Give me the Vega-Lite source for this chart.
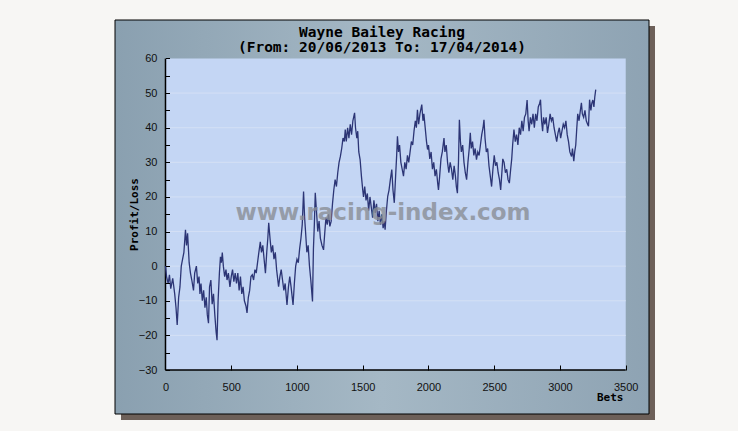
{
  "$schema": "https://vega.github.io/schema/vega-lite/v6.json",
  "description": "Wayne Bailey Racing cumulative profit/loss by number of bets.",
  "autosize": {"type": "none"},
  "width": 534,
  "height": 394,
  "padding": {"left": 115, "top": 20, "right": 89, "bottom": 17},
  "background": "#f7f6f4",
  "title": {
    "text": ["Wayne Bailey Racing", "(From: 20/06/2013 To: 17/04/2014)"],
    "font": "DejaVu Sans Mono",
    "fontSize": 14.5,
    "fontWeight": "bold",
    "color": "#000000",
    "anchor": "middle",
    "frame": "group",
    "baseline": "top",
    "offset": -36,
    "lineHeight": 15
  },
  "datasets": {
    "grid": [{"level": 50}, {"level": 40}, {"level": 30}, {"level": 20}, {"level": 10}, {"level": 0}, {"level": -10}, {"level": -20}],
    "pl": [
      {"bets": 0, "profit": 0}, {"bets": 8, "profit": -3}, {"bets": 20, "profit": -5}, {"bets": 30, "profit": -2.5},
      {"bets": 40, "profit": -6.5}, {"bets": 55, "profit": -3.5}, {"bets": 70, "profit": -8}, {"bets": 80, "profit": -12},
      {"bets": 89, "profit": -17}, {"bets": 100, "profit": -9}, {"bets": 110, "profit": -6}, {"bets": 120, "profit": 0},
      {"bets": 130, "profit": 2}, {"bets": 140, "profit": 4}, {"bets": 152, "profit": 10.5}, {"bets": 160, "profit": 6},
      {"bets": 168, "profit": 9.5}, {"bets": 180, "profit": 1}, {"bets": 190, "profit": -2}, {"bets": 200, "profit": -4},
      {"bets": 213, "profit": -7}, {"bets": 222, "profit": -2}, {"bets": 235, "profit": 0}, {"bets": 245, "profit": -5},
      {"bets": 255, "profit": -3}, {"bets": 262, "profit": -8}, {"bets": 270, "profit": -5}, {"bets": 280, "profit": -10},
      {"bets": 290, "profit": -7}, {"bets": 300, "profit": -12}, {"bets": 310, "profit": -9}, {"bets": 318, "profit": -14},
      {"bets": 327, "profit": -16.5}, {"bets": 335, "profit": -6}, {"bets": 345, "profit": -4}, {"bets": 355, "profit": -11},
      {"bets": 365, "profit": -8}, {"bets": 375, "profit": -14}, {"bets": 385, "profit": -19}, {"bets": 392, "profit": -21.4},
      {"bets": 400, "profit": -10}, {"bets": 410, "profit": -2}, {"bets": 418, "profit": 2.7}, {"bets": 425, "profit": 1},
      {"bets": 432, "profit": 3.9}, {"bets": 440, "profit": 0}, {"bets": 450, "profit": -3}, {"bets": 460, "profit": -1},
      {"bets": 468, "profit": -4}, {"bets": 478, "profit": -2}, {"bets": 490, "profit": -6}, {"bets": 500, "profit": -3},
      {"bets": 510, "profit": -1}, {"bets": 520, "profit": -4.5}, {"bets": 530, "profit": -2}, {"bets": 540, "profit": -5},
      {"bets": 550, "profit": -2}, {"bets": 560, "profit": -7}, {"bets": 570, "profit": -3}, {"bets": 580, "profit": -8},
      {"bets": 590, "profit": -6}, {"bets": 600, "profit": -10}, {"bets": 612, "profit": -11.5}, {"bets": 620, "profit": -13.5},
      {"bets": 630, "profit": -9}, {"bets": 640, "profit": -7}, {"bets": 650, "profit": -3}, {"bets": 660, "profit": -2.5},
      {"bets": 670, "profit": -4}, {"bets": 680, "profit": -1}, {"bets": 690, "profit": -2}, {"bets": 700, "profit": 1},
      {"bets": 710, "profit": 4}, {"bets": 721, "profit": 7}, {"bets": 730, "profit": 4}, {"bets": 740, "profit": 6},
      {"bets": 750, "profit": 2}, {"bets": 760, "profit": -2}, {"bets": 770, "profit": 4}, {"bets": 778, "profit": 8},
      {"bets": 785, "profit": 12.5}, {"bets": 795, "profit": 8}, {"bets": 805, "profit": 4}, {"bets": 815, "profit": 6},
      {"bets": 825, "profit": 2}, {"bets": 835, "profit": 4}, {"bets": 845, "profit": -1}, {"bets": 860, "profit": -5.9},
      {"bets": 870, "profit": -3}, {"bets": 880, "profit": -1}, {"bets": 890, "profit": -4}, {"bets": 900, "profit": -7},
      {"bets": 910, "profit": -5}, {"bets": 924, "profit": -11.2}, {"bets": 935, "profit": -6}, {"bets": 945, "profit": -3},
      {"bets": 955, "profit": -6}, {"bets": 970, "profit": -11.2}, {"bets": 980, "profit": -5}, {"bets": 990, "profit": 0},
      {"bets": 1000, "profit": 2}, {"bets": 1010, "profit": 1}, {"bets": 1020, "profit": 5}, {"bets": 1030, "profit": 8},
      {"bets": 1040, "profit": 12}, {"bets": 1050, "profit": 21.6}, {"bets": 1058, "profit": 14}, {"bets": 1065, "profit": 10},
      {"bets": 1075, "profit": 4}, {"bets": 1085, "profit": 6}, {"bets": 1095, "profit": 0}, {"bets": 1105, "profit": -4},
      {"bets": 1118, "profit": -10.2}, {"bets": 1125, "profit": 5}, {"bets": 1132, "profit": 12}, {"bets": 1139, "profit": 21.2},
      {"bets": 1148, "profit": 16}, {"bets": 1158, "profit": 10}, {"bets": 1168, "profit": 13}, {"bets": 1178, "profit": 8},
      {"bets": 1190, "profit": 6}, {"bets": 1202, "profit": 4.7}, {"bets": 1210, "profit": 9}, {"bets": 1220, "profit": 14},
      {"bets": 1230, "profit": 12}, {"bets": 1240, "profit": 15}, {"bets": 1250, "profit": 11.5}, {"bets": 1260, "profit": 13},
      {"bets": 1270, "profit": 18}, {"bets": 1280, "profit": 22}, {"bets": 1290, "profit": 25}, {"bets": 1300, "profit": 23},
      {"bets": 1310, "profit": 27}, {"bets": 1320, "profit": 30}, {"bets": 1330, "profit": 31.7}, {"bets": 1340, "profit": 34},
      {"bets": 1350, "profit": 37}, {"bets": 1360, "profit": 36}, {"bets": 1367, "profit": 39.5}, {"bets": 1375, "profit": 36},
      {"bets": 1385, "profit": 40}, {"bets": 1395, "profit": 37}, {"bets": 1405, "profit": 41}, {"bets": 1415, "profit": 38},
      {"bets": 1425, "profit": 42}, {"bets": 1438, "profit": 44.3}, {"bets": 1445, "profit": 40}, {"bets": 1455, "profit": 37},
      {"bets": 1462, "profit": 39}, {"bets": 1470, "profit": 33}, {"bets": 1480, "profit": 30.8}, {"bets": 1490, "profit": 26},
      {"bets": 1500, "profit": 22}, {"bets": 1506, "profit": 20}, {"bets": 1515, "profit": 23}, {"bets": 1525, "profit": 19},
      {"bets": 1535, "profit": 21}, {"bets": 1545, "profit": 16}, {"bets": 1555, "profit": 20}, {"bets": 1565, "profit": 17},
      {"bets": 1575, "profit": 14}, {"bets": 1585, "profit": 19}, {"bets": 1595, "profit": 15.4}, {"bets": 1605, "profit": 18},
      {"bets": 1615, "profit": 13}, {"bets": 1625, "profit": 16}, {"bets": 1635, "profit": 12}, {"bets": 1645, "profit": 15},
      {"bets": 1655, "profit": 11}, {"bets": 1665, "profit": 13}, {"bets": 1670, "profit": 10.5}, {"bets": 1680, "profit": 16},
      {"bets": 1690, "profit": 20.2}, {"bets": 1700, "profit": 22}, {"bets": 1710, "profit": 25}, {"bets": 1721, "profit": 27.9},
      {"bets": 1730, "profit": 22}, {"bets": 1740, "profit": 18.3}, {"bets": 1750, "profit": 26}, {"bets": 1758, "profit": 32},
      {"bets": 1764, "profit": 37.5}, {"bets": 1772, "profit": 33}, {"bets": 1780, "profit": 35}, {"bets": 1790, "profit": 30},
      {"bets": 1800, "profit": 28}, {"bets": 1810, "profit": 26}, {"bets": 1820, "profit": 30}, {"bets": 1830, "profit": 28},
      {"bets": 1840, "profit": 32}, {"bets": 1850, "profit": 30}, {"bets": 1860, "profit": 33}, {"bets": 1870, "profit": 36},
      {"bets": 1880, "profit": 35}, {"bets": 1890, "profit": 39}, {"bets": 1900, "profit": 42}, {"bets": 1908, "profit": 40},
      {"bets": 1916, "profit": 45.2}, {"bets": 1925, "profit": 41}, {"bets": 1935, "profit": 44}, {"bets": 1949, "profit": 46.7},
      {"bets": 1958, "profit": 42}, {"bets": 1965, "profit": 44}, {"bets": 1975, "profit": 40}, {"bets": 1985, "profit": 36},
      {"bets": 1993, "profit": 33.7}, {"bets": 2000, "profit": 35}, {"bets": 2010, "profit": 31}, {"bets": 2020, "profit": 33},
      {"bets": 2030, "profit": 28}, {"bets": 2040, "profit": 30}, {"bets": 2050, "profit": 26}, {"bets": 2060, "profit": 28},
      {"bets": 2070, "profit": 24}, {"bets": 2076, "profit": 22}, {"bets": 2085, "profit": 26}, {"bets": 2095, "profit": 31},
      {"bets": 2105, "profit": 33}, {"bets": 2118, "profit": 37}, {"bets": 2125, "profit": 33}, {"bets": 2135, "profit": 35},
      {"bets": 2145, "profit": 30}, {"bets": 2155, "profit": 27}, {"bets": 2165, "profit": 30}, {"bets": 2175, "profit": 28},
      {"bets": 2185, "profit": 25}, {"bets": 2195, "profit": 29}, {"bets": 2205, "profit": 26}, {"bets": 2212, "profit": 23},
      {"bets": 2220, "profit": 21.1}, {"bets": 2228, "profit": 30}, {"bets": 2235, "profit": 42.3}, {"bets": 2243, "profit": 36},
      {"bets": 2250, "profit": 33}, {"bets": 2260, "profit": 35}, {"bets": 2270, "profit": 30}, {"bets": 2280, "profit": 27},
      {"bets": 2290, "profit": 25}, {"bets": 2300, "profit": 30}, {"bets": 2310, "profit": 34}, {"bets": 2318, "profit": 38.5},
      {"bets": 2325, "profit": 34}, {"bets": 2335, "profit": 36}, {"bets": 2345, "profit": 32}, {"bets": 2355, "profit": 34},
      {"bets": 2365, "profit": 30.8}, {"bets": 2375, "profit": 33}, {"bets": 2385, "profit": 32}, {"bets": 2395, "profit": 35},
      {"bets": 2405, "profit": 38}, {"bets": 2415, "profit": 40}, {"bets": 2422, "profit": 42.3}, {"bets": 2430, "profit": 37},
      {"bets": 2440, "profit": 33}, {"bets": 2450, "profit": 34}, {"bets": 2460, "profit": 29}, {"bets": 2470, "profit": 26},
      {"bets": 2480, "profit": 23}, {"bets": 2490, "profit": 28}, {"bets": 2500, "profit": 32}, {"bets": 2510, "profit": 29},
      {"bets": 2520, "profit": 30}, {"bets": 2530, "profit": 27}, {"bets": 2540, "profit": 25}, {"bets": 2549, "profit": 22},
      {"bets": 2558, "profit": 27}, {"bets": 2565, "profit": 31}, {"bets": 2575, "profit": 30}, {"bets": 2585, "profit": 27},
      {"bets": 2595, "profit": 28}, {"bets": 2605, "profit": 25}, {"bets": 2615, "profit": 24}, {"bets": 2625, "profit": 28},
      {"bets": 2633, "profit": 31}, {"bets": 2640, "profit": 35}, {"bets": 2650, "profit": 39.5}, {"bets": 2660, "profit": 36},
      {"bets": 2670, "profit": 38}, {"bets": 2680, "profit": 35}, {"bets": 2690, "profit": 40}, {"bets": 2700, "profit": 38},
      {"bets": 2710, "profit": 42}, {"bets": 2720, "profit": 39}, {"bets": 2730, "profit": 43}, {"bets": 2740, "profit": 44},
      {"bets": 2750, "profit": 48}, {"bets": 2758, "profit": 42}, {"bets": 2765, "profit": 39}, {"bets": 2775, "profit": 43},
      {"bets": 2785, "profit": 41}, {"bets": 2795, "profit": 44}, {"bets": 2805, "profit": 40}, {"bets": 2815, "profit": 44},
      {"bets": 2825, "profit": 42}, {"bets": 2835, "profit": 46}, {"bets": 2845, "profit": 47}, {"bets": 2852, "profit": 48.1},
      {"bets": 2860, "profit": 42}, {"bets": 2868, "profit": 39}, {"bets": 2875, "profit": 43}, {"bets": 2885, "profit": 41},
      {"bets": 2895, "profit": 43}, {"bets": 2905, "profit": 38.5}, {"bets": 2915, "profit": 41}, {"bets": 2925, "profit": 44},
      {"bets": 2935, "profit": 42}, {"bets": 2945, "profit": 43}, {"bets": 2955, "profit": 40}, {"bets": 2965, "profit": 38},
      {"bets": 2975, "profit": 36}, {"bets": 2985, "profit": 38.5}, {"bets": 2995, "profit": 40}, {"bets": 3005, "profit": 37},
      {"bets": 3015, "profit": 39}, {"bets": 3025, "profit": 41}, {"bets": 3035, "profit": 40}, {"bets": 3045, "profit": 42},
      {"bets": 3055, "profit": 38}, {"bets": 3065, "profit": 36}, {"bets": 3075, "profit": 33}, {"bets": 3088, "profit": 31.7},
      {"bets": 3095, "profit": 34}, {"bets": 3105, "profit": 30.3}, {"bets": 3112, "profit": 33}, {"bets": 3120, "profit": 35},
      {"bets": 3128, "profit": 40}, {"bets": 3135, "profit": 44}, {"bets": 3145, "profit": 42}, {"bets": 3155, "profit": 45},
      {"bets": 3163, "profit": 47.2}, {"bets": 3170, "profit": 44}, {"bets": 3180, "profit": 43}, {"bets": 3190, "profit": 45},
      {"bets": 3200, "profit": 42}, {"bets": 3210, "profit": 41}, {"bets": 3217, "profit": 40.4}, {"bets": 3225, "profit": 48.1},
      {"bets": 3235, "profit": 45}, {"bets": 3242, "profit": 47}, {"bets": 3250, "profit": 48}, {"bets": 3258, "profit": 46},
      {"bets": 3265, "profit": 49}, {"bets": 3272, "profit": 51}
    ]
  },
  "encoding": {
    "x": {
      "type": "quantitative",
      "scale": {"domain": [-384, 3677], "nice": false, "zero": false},
      "axis": {
        "orient": "bottom",
        "offset": -44,
        "values": [0, 500, 1000, 1500, 2000, 2500, 3000, 3500],
        "format": "d",
        "domain": false,
        "grid": false,
        "tickSize": -5,
        "tickColor": "#000000",
        "tickWidth": 1,
        "labelFont": "Liberation Sans",
        "labelFontSize": 11,
        "labelColor": "#111111",
        "labelPadding": 16,
        "labelFlush": false,
        "labelOverlap": false,
        "title": "Bets",
        "titleFont": "DejaVu Sans Mono",
        "titleFontSize": 11,
        "titleFontWeight": "bold",
        "titleColor": "#000000",
        "titleX": 508,
        "titleY": 27,
        "titleAlign": "right",
        "titleBaseline": "middle",
        "zindex": 1
      }
    },
    "y": {
      "type": "quantitative",
      "scale": {"domain": [-42.71, 71.12], "nice": false, "zero": false},
      "axis": {
        "orient": "left",
        "offset": -50.5,
        "values": [-30, -25, -20, -15, -10, -5, 0, 5, 10, 15, 20, 25, 30, 35, 40, 45, 50, 55, 60],
        "labelExpr": "datum.value % 10 === 0 ? datum.label : ''",
        "domain": false,
        "grid": false,
        "tickSize": -4,
        "tickColor": "#000000",
        "tickWidth": 1,
        "labelFont": "Liberation Sans",
        "labelFontSize": 11,
        "labelColor": "#111111",
        "labelPadding": 12.5,
        "labelFlush": false,
        "title": "Profit/Loss",
        "titleFont": "DejaVu Sans Mono",
        "titleFontSize": 11,
        "titleFontWeight": "bold",
        "titleColor": "#000000",
        "titleAngle": 270,
        "titleX": -31.5,
        "titleY": 194,
        "titleAlign": "center",
        "titleBaseline": "middle",
        "zindex": 1
      }
    }
  },
  "layer": [
    {
      "data": {"values": [{}]},
      "mark": {"type": "rect", "color": "#6d6059"},
      "encoding": {
        "x": {"datum": 3677, "type": "quantitative"},
        "x2": {"datum": 3722.6},
        "y": {"datum": 69.39, "type": "quantitative"},
        "y2": {"datum": -44.44}
      }
    },
    {
      "data": {"values": [{}]},
      "mark": {"type": "rect", "color": "#6d6059"},
      "encoding": {
        "x": {"datum": -338.4, "type": "quantitative"},
        "x2": {"datum": 3722.6},
        "y": {"datum": -42.71, "type": "quantitative"},
        "y2": {"datum": -44.44}
      }
    },
    {
      "data": {"values": [{}]},
      "mark": {
        "type": "rect",
        "fill": {
          "gradient": "linear",
          "x1": 0, "y1": 0, "x2": 1, "y2": 0,
          "stops": [
            {"offset": 0, "color": "#8aa0b0"},
            {"offset": 0.5, "color": "#a5b8c5"},
            {"offset": 1, "color": "#8ea3b3"}
          ]
        },
        "stroke": "#000000",
        "strokeWidth": 1
      },
      "encoding": {
        "x": {"datum": -384, "type": "quantitative"},
        "x2": {"datum": 3677},
        "y": {"datum": 71.12, "type": "quantitative"},
        "y2": {"datum": -42.71}
      }
    },
    {
      "data": {"values": [{}]},
      "mark": {"type": "rect", "color": "#c4d6f4"},
      "encoding": {
        "x": {"datum": 0, "type": "quantitative"},
        "x2": {"datum": 3500},
        "y": {"datum": -30, "type": "quantitative"},
        "y2": {"datum": 60}
      }
    },
    {
      "data": {"name": "grid"},
      "mark": {"type": "rule", "color": "#d4e0f5", "strokeWidth": 1},
      "encoding": {
        "x": {"datum": 0, "type": "quantitative"},
        "x2": {"datum": 3500},
        "y": {"field": "level", "type": "quantitative"}
      }
    },
    {
      "data": {"values": [{}]},
      "mark": {"type": "rule", "color": "#000000", "strokeWidth": 1.5},
      "encoding": {
        "x": {"datum": 0, "type": "quantitative"},
        "y": {"datum": -30, "type": "quantitative"},
        "y2": {"datum": 60}
      }
    },
    {
      "data": {"values": [{}]},
      "mark": {"type": "rule", "color": "#000000", "strokeWidth": 1.5},
      "encoding": {
        "x": {"datum": 0, "type": "quantitative"},
        "x2": {"datum": 3500},
        "y": {"datum": -30, "type": "quantitative"}
      }
    },
    {
      "data": {"name": "pl"},
      "mark": {"type": "line", "color": "#2c3575", "strokeWidth": 1.3},
      "encoding": {
        "x": {"field": "bets", "type": "quantitative"},
        "y": {"field": "profit", "type": "quantitative"}
      }
    },
    {
      "data": {"values": [{}]},
      "mark": {
        "type": "text",
        "text": "www.racing-index.com",
        "font": "DejaVu Sans",
        "fontWeight": "bold",
        "fontSize": 23,
        "color": "#8a8e96",
        "opacity": 0.8,
        "align": "center",
        "baseline": "middle"
      },
      "encoding": {
        "x": {"datum": 1654, "type": "quantitative"},
        "y": {"datum": 15.4, "type": "quantitative"}
      }
    }
  ],
  "config": {
    "view": {"stroke": null},
    "axis": {"ticks": true}
  }
}
